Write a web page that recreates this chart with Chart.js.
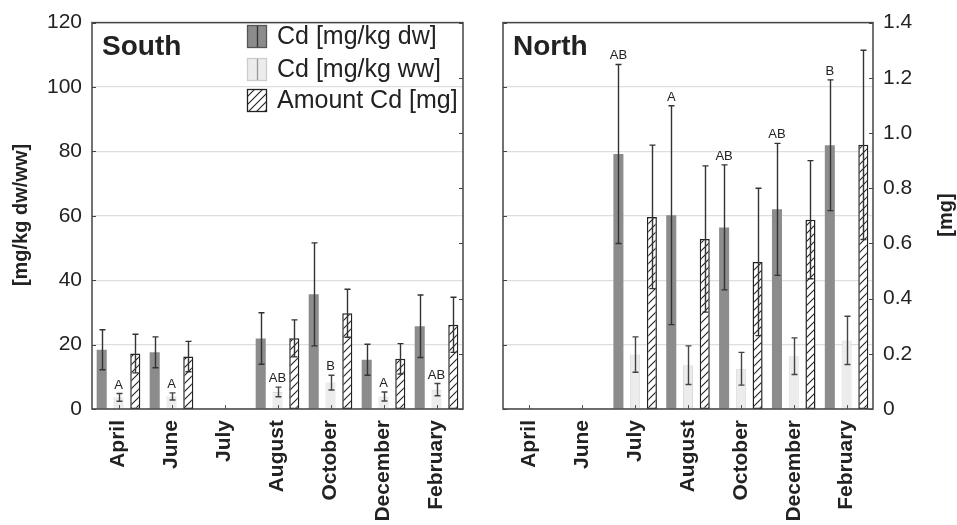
<!DOCTYPE html>
<html>
<head>
<meta charset="utf-8">
<script src="https://cdn.jsdelivr.net/npm/chart.js@4/dist/chart.umd.min.js"></script>
<style>
  html, body { margin: 0; padding: 0; background: #fff; }
  #wrap { position: relative; width: 957px; height: 525px; }
  #south { position: absolute; left: 0; top: 0; }
  #north { position: absolute; left: 480px; top: 0; }
</style>
</head>
<body>
<div id="wrap">
  <canvas id="south" width="480" height="525"></canvas>
  <canvas id="north" width="477" height="525"></canvas>
</div>
<script>
// categories
const months = ['April', 'June', 'July', 'August', 'October', 'December', 'February'];

// South: means and error bars (+/-)
const southDw = [18.4, 17.6, null, 21.9, 35.6, 15.3, 25.7];
const southDwErr = [6.2, 4.8, null, 8.0, 16.0, 4.8, 9.7];
const southWw = [3.6, 3.9, null, 5.3, 8.2, 3.9, 6.0];
const southWwErr = [1.2, 1.1, null, 1.5, 2.3, 1.4, 1.9];
const southAmount = [0.201, 0.19, null, 0.256, 0.347, 0.182, 0.305];
const southAmountErr = [0.07, 0.055, null, 0.067, 0.087, 0.055, 0.1];
const southLetters = ['A', 'A', '', 'AB', 'B', 'A', 'AB'];   // above ww bars

// North
const northDw = [null, null, 79.2, 60.2, 56.4, 62.0, 81.9];
const northDwErr = [null, null, 27.8, 34.0, 19.4, 20.5, 20.3];
const northWw = [null, null, 16.9, 13.6, 12.5, 16.4, 21.3];
const northWwErr = [null, null, 5.5, 6.0, 5.1, 5.7, 7.5];
const northAmount = [null, null, 0.696, 0.616, 0.533, 0.686, 0.957];
const northAmountErr = [null, null, 0.26, 0.265, 0.267, 0.214, 0.343];
const northLetters = ['', '', 'AB', 'A', 'AB', 'AB', 'B'];   // above dw bars

// tick ranges
const leftMax = 120, leftStep = 20;
const rightMax = 1.4, rightStep = 0.2;

Chart.defaults.font.family = '"Liberation Sans", Arial, Helvetica, sans-serif';
Chart.defaults.color = '#222';

const FONT = '"Liberation Sans", Arial, Helvetica, sans-serif';
const DARK = '#8c8c8c';
const LIGHT = '#ececec';

// diagonal hatch
function makeHatch() {
    const c = document.createElement('canvas');
    c.width = 8; c.height = 8;
    const g = c.getContext('2d');
    g.fillStyle = '#fff';
    g.fillRect(0, 0, 8, 8);
    g.strokeStyle = '#222';
    g.lineWidth = 1.1;
    g.beginPath();
    g.moveTo(-1, 9); g.lineTo(9, -1);
    g.moveTo(-1, 1); g.lineTo(1, -1);
    g.moveTo(7, 9); g.lineTo(9, 7);
    g.stroke();
    return g.createPattern(c, 'repeat');
}

const extras = {
    id: 'extras',
    afterDatasetsDraw(chart) {
        const ctx = chart.ctx;
        const a = chart.chartArea;
        ctx.save();
        // small inward category ticks
        const xs = chart.scales.x;
        ctx.strokeStyle = '#555';
        ctx.lineWidth = 1;
        months.forEach((m, i) => {
            const x = Math.round(xs.getPixelForValue(i)) + 0.5;
            ctx.beginPath();
            ctx.moveTo(x, a.bottom);
            ctx.lineTo(x, a.bottom - 4);
            ctx.stroke();
        });
        // error bars
        chart.data.datasets.forEach((ds, di) => {
            const meta = chart.getDatasetMeta(di);
            const ys = chart.scales[ds.yAxisID];
            ctx.strokeStyle = ds.errColor;
            ctx.lineWidth = 1.4;
            ds.errors.forEach((e, i) => {
                const v = ds.data[i];
                if (v == null || e == null) return;
                const x = Math.round(meta.data[i].x) + 0.5;
                const yt = ys.getPixelForValue(v + e);
                const yb = ys.getPixelForValue(Math.max(v - e, 0));
                ctx.beginPath();
                ctx.moveTo(x, yt); ctx.lineTo(x, yb);
                ctx.moveTo(x - 3, yt); ctx.lineTo(x + 3, yt);
                ctx.moveTo(x - 3, yb); ctx.lineTo(x + 3, yb);
                ctx.stroke();
            });
        });
        ctx.restore();
    },
    afterDraw(chart) {
        const ctx = chart.ctx;
        const a = chart.chartArea;
        const o = chart.options.plugins.extras;
        ctx.save();
        // frame
        ctx.strokeStyle = '#444';
        ctx.lineWidth = 1.5;
        ctx.strokeRect(a.left, a.top, a.right - a.left, a.bottom - a.top);
        // inward y ticks
        ctx.lineWidth = 1;
        const yl = chart.scales.yL, yr = chart.scales.yR;
        for (let v = 0; v <= leftMax; v += leftStep) {
            const y = Math.round(yl.getPixelForValue(v)) + 0.5;
            ctx.beginPath(); ctx.moveTo(a.left, y); ctx.lineTo(a.left + 4, y); ctx.stroke();
        }
        for (let k = 0; k <= 7; k++) {
            const y = Math.round(yr.getPixelForValue(k * rightStep)) + 0.5;
            ctx.beginPath(); ctx.moveTo(a.right, y); ctx.lineTo(a.right - 4, y); ctx.stroke();
        }
        // significance letters
        const ds = chart.data.datasets[o.letterSet];
        const meta = chart.getDatasetMeta(o.letterSet);
        const ys = chart.scales[ds.yAxisID];
        ctx.fillStyle = '#222';
        ctx.font = '13px ' + FONT;
        ctx.textAlign = 'center';
        ctx.textBaseline = 'alphabetic';
        o.letters.forEach((t, i) => {
            if (!t || ds.data[i] == null) return;
            const y = ys.getPixelForValue(ds.data[i] + ds.errors[i]);
            ctx.fillText(t, meta.data[i].x, y - 5);
        });
        // panel name
        ctx.font = 'bold 28px ' + FONT;
        ctx.textAlign = 'left';
        ctx.textBaseline = 'middle';
        ctx.fillText(o.name, a.left + 10, 47);
        // axis title
        ctx.font = 'bold 20px ' + FONT;
        ctx.textAlign = 'center';
        ctx.save();
        ctx.translate(o.titleX, 215);
        ctx.rotate(-Math.PI / 2);
        ctx.fillText(o.title, 0, 0);
        ctx.restore();
        // legend
        if (o.legend) {
            const items = [
                { text: 'Cd [mg/kg dw]', fill: DARK, border: '#555', line: '#333', y: 25 },
                { text: 'Cd [mg/kg ww]', fill: LIGHT, border: '#ccc', line: '#999', y: 58 },
                { text: 'Amount Cd [mg]', fill: chart.data.datasets[2].backgroundColor, border: '#222', line: null, y: 89 }
            ];
            ctx.font = '25px ' + FONT;
            ctx.textAlign = 'left';
            items.forEach(it => {
                ctx.fillStyle = it.fill;
                ctx.fillRect(247, it.y, 20, 23);
                ctx.strokeStyle = it.border;
                ctx.lineWidth = 1.3;
                ctx.strokeRect(247.5, it.y + 0.5, 19, 22);
                if (it.line) {
                    ctx.strokeStyle = it.line;
                    ctx.beginPath();
                    ctx.moveTo(257.5, it.y + 1); ctx.lineTo(257.5, it.y + 22);
                    ctx.stroke();
                }
                ctx.fillStyle = '#222';
                ctx.fillText(it.text, 277, it.y + 12);
            });
        }
        ctx.restore();
    }
};

function makePanel(id, dw, dwErr, ww, wwErr, amount, amountErr, opts) {
    const hatch = makeHatch();
    return new Chart(document.getElementById(id), {
        type: 'bar',
        data: {
            labels: months,
            datasets: [
                { label: 'Cd [mg/kg dw]', data: dw, errors: dwErr, yAxisID: 'yL',
                  backgroundColor: DARK, borderWidth: 0, errColor: '#333' },
                { label: 'Cd [mg/kg ww]', data: ww, errors: wwErr, yAxisID: 'yL',
                  backgroundColor: LIGHT, borderColor: '#dadada', borderWidth: 1, errColor: '#444' },
                { label: 'Amount Cd [mg]', data: amount, errors: amountErr, yAxisID: 'yR',
                  backgroundColor: hatch, borderColor: '#222', borderWidth: 1.5, borderSkipped: false, errColor: '#333' }
            ]
        },
        options: {
            responsive: false,
            animation: false,
            layout: { padding: { top: 22, bottom: 0, left: 0, right: 0 } },
            datasets: { bar: { categoryPercentage: 0.95, barPercentage: 0.6 } },
            plugins: {
                legend: { display: false },
                tooltip: { enabled: false },
                extras: opts
            },
            scales: {
                x: {
                    grid: { display: false, drawTicks: false },
                    border: { display: false },
                    ticks: { maxRotation: 90, minRotation: 90, padding: 11, color: '#222',
                             font: { size: 21, weight: 'bold' } },
                    afterFit: (s) => { s.height = 116; }
                },
                yL: {
                    position: 'left',
                    min: 0, max: leftMax,
                    z: 1,
                    grid: { color: 'rgba(0,0,0,0.13)', lineWidth: 1.2, drawTicks: false },
                    border: { display: false },
                    ticks: { stepSize: leftStep, padding: 10, display: opts.showLeft, color: '#222',
                             font: { size: 21 } },
                    afterFit: (s) => { s.width = opts.leftW; }
                },
                yR: {
                    position: 'right',
                    min: 0, max: rightMax,
                    grid: { display: false, drawTicks: false },
                    border: { display: false },
                    ticks: { stepSize: rightStep, padding: 10, display: opts.showRight, color: '#222',
                             font: { size: 21 },
                             callback: (v) => v === 0 ? '0' : Number(v).toFixed(1) },
                    afterFit: (s) => { s.width = opts.rightW; }
                }
            }
        },
        plugins: [extras]
    });
}

makePanel('south', southDw, southDwErr, southWw, southWwErr, southAmount, southAmountErr, {
    name: 'South', letters: southLetters, letterSet: 1, legend: true,
    title: '[mg/kg dw/ww]', titleX: 21, showLeft: true, showRight: false, leftW: 92, rightW: 17
});

makePanel('north', northDw, northDwErr, northWw, northWwErr, northAmount, northAmountErr, {
    name: 'North', letters: northLetters, letterSet: 0, legend: false,
    title: '[mg]', titleX: 466, showLeft: false, showRight: true, leftW: 23, rightW: 84
});
</script>
</body>
</html>
